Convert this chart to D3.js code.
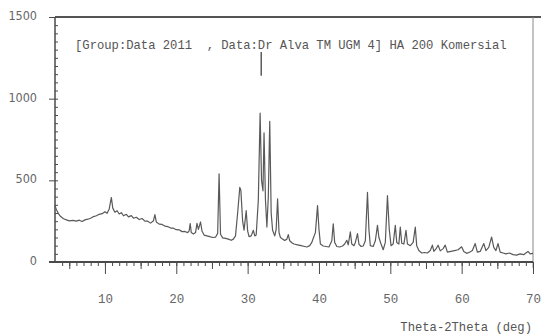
<!DOCTYPE html>
<html>
<head>
<meta charset="utf-8">
<script src="https://cdn.jsdelivr.net/npm/d3@7"></script>
<style>
  body { margin: 0; background: #fff; }
  svg { display: block; }
</style>
</head>
<body>
<svg id="chart" width="541" height="336"></svg>
<script>
// diffraction pattern: 2theta (deg) and intensity
const twoTheta = [
  3.0, 3.2, 3.5, 3.8, 4.2, 4.6, 5.0, 5.5, 6.0, 6.4, 6.8, 7.2, 7.6, 8.0, 8.4, 8.8, 9.2, 9.6,
  10.0, 10.3, 10.6, 10.9, 11.1, 11.4, 11.7, 12.0, 12.3, 12.6, 13.0, 13.3, 13.7, 14.0, 14.4, 14.8,
  15.2, 15.6, 16.0, 16.4, 16.8, 17.0, 17.2, 17.6, 18.0, 18.4, 18.8, 19.2, 19.6, 20.0, 20.4, 20.8,
  21.2, 21.6, 21.8, 21.95, 22.1, 22.4, 22.7, 22.9, 23.1, 23.4, 23.6, 23.9, 24.3, 24.7, 25.1, 25.5,
  25.8, 26.0, 26.2, 26.5, 26.9, 27.3, 27.7, 28.0, 28.3, 28.6, 28.9, 29.05, 29.3, 29.5, 29.8, 30.0,
  30.2, 30.5, 30.8, 31.0, 31.2, 31.5, 31.75, 31.95, 32.15, 32.3, 32.5, 32.7, 32.9, 33.1, 33.3, 33.5,
  33.8, 34.0, 34.2, 34.4, 34.6, 34.9, 35.2, 35.5, 35.7, 35.9, 36.2, 36.5, 37.0, 37.5, 38.0, 38.3,
  38.7, 39.0, 39.2, 39.5, 39.8, 40.0, 40.2, 40.6, 41.0, 41.4, 41.8, 42.0, 42.2, 42.5, 42.9, 43.3,
  43.6, 43.9, 44.1, 44.4, 44.6, 44.9, 45.1, 45.4, 45.6, 45.9, 46.2, 46.5, 46.8, 47.0, 47.2, 47.6,
  47.9, 48.2, 48.4, 48.7, 49.0, 49.3, 49.6, 49.85, 50.1, 50.4, 50.7, 50.9, 51.2, 51.4, 51.6, 51.9,
  52.2, 52.4, 52.8, 53.2, 53.5, 53.7, 54.0, 54.4, 54.8, 55.2, 55.6, 55.9, 56.1, 56.4, 56.7, 57.0,
  57.4, 57.7, 58.0, 58.5, 59.0, 59.5, 60.0, 60.3, 60.7, 61.1, 61.5, 61.9, 62.2, 62.6, 63.1, 63.4,
  63.8, 64.2, 64.5, 64.8, 65.1, 65.4, 65.8, 66.2, 66.7, 67.2, 67.7, 68.2, 68.7, 69.0, 69.3, 69.6, 70.0
];
const intensity = [
  345, 320, 295, 278, 265, 258, 252, 255, 250, 256, 248, 258, 262, 268, 278, 283, 292, 296,
  308, 298, 325, 395, 330, 305, 314, 294, 302, 283, 292, 276, 284, 268, 274, 260,
  266, 250, 250, 238, 252, 290, 245, 232, 230, 220, 217, 208, 207, 198, 197, 186,
  187, 180, 190, 235, 180, 172, 180, 236, 200, 245, 190, 165, 160, 155, 150, 152,
  175, 540, 170, 148, 145, 140, 133, 140, 160, 300, 457, 440, 250, 195, 315, 190,
  155, 160, 194, 160, 165, 380, 911, 500, 436, 790, 380, 214, 400, 861, 300, 194,
  160, 200, 386, 180, 150, 140, 132, 140, 168, 130, 118, 110, 105, 100, 95, 92,
  100, 120, 145, 180, 345, 200, 110, 98, 95, 92, 130, 234, 120, 95, 92, 98,
  110, 133, 105, 184, 110, 100, 120, 174, 110, 95, 98, 130, 426, 200, 100, 95,
  130, 224, 150, 110, 75, 120, 406, 200, 100, 110, 224, 120, 110, 214, 115, 110,
  194, 110, 100, 120, 214, 100, 70, 55, 58, 55, 70, 103, 65, 80, 103, 68,
  82, 103, 60, 65, 70, 75, 93, 65, 53, 60, 70, 113, 60, 65, 113, 70,
  90, 153, 90, 70, 113, 60, 55, 50, 55, 45, 42, 50, 45, 55, 65, 50, 53
];

const xDomain = [3, 70];
const yDomain = [0, 1500];
const xLabels = [10, 20, 30, 40, 50, 60, 70];
const yLabels = [0, 500, 1000, 1500];
const peakMarker = {at: 31.9, from: 1140, to: 1285};

const title = "[Group:Data 2011  , Data:Dr Alva TM UGM 4] HA 200 Komersial";
const xTitle = "Theta-2Theta (deg)";

const svg = d3.select("#chart");
const plotLeft = 55, plotRight = 533, plotTop = 17, plotBottom = 262;

const x = d3.scaleLinear(xDomain, [plotLeft, plotRight]);
const y = d3.scaleLinear(yDomain, [plotBottom, plotTop]);

const axisColor = "#4a4a4a";
const textColor = "#666";

// frame: top rule and right edge
svg.append("line")
  .attr("x1", plotLeft).attr("x2", 541)
  .attr("y1", plotTop).attr("y2", plotTop)
  .attr("stroke", "#555").attr("stroke-width", 2);
svg.append("line")
  .attr("x1", plotRight).attr("x2", plotRight)
  .attr("y1", plotTop).attr("y2", plotBottom + 6)
  .attr("stroke", "#888").attr("stroke-width", 1);

function styleAxis(g) {
  g.select(".domain").remove();
  g.selectAll("line").attr("stroke", axisColor);
  g.selectAll("text")
    .attr("fill", textColor)
    .attr("font-family", "'Liberation Mono', monospace")
    .attr("font-size", 12.5);
}

// x axis: minor, medium and major ticks
svg.append("g")
  .attr("transform", `translate(0,${plotBottom})`)
  .call(d3.axisBottom(x).tickValues(d3.range(4, 71, 1)).tickSize(4).tickFormat(""))
  .call(styleAxis);
svg.append("g")
  .attr("transform", `translate(0,${plotBottom})`)
  .call(d3.axisBottom(x).tickValues(d3.range(5, 71, 10)).tickSize(7).tickFormat(""))
  .call(styleAxis);
svg.append("g")
  .attr("transform", `translate(0,${plotBottom})`)
  .call(d3.axisBottom(x).tickValues(xLabels).tickSize(12).tickPadding(20).tickFormat(d3.format("d")))
  .call(styleAxis);

svg.append("line")
  .attr("x1", plotLeft - 6).attr("x2", plotRight)
  .attr("y1", plotBottom).attr("y2", plotBottom)
  .attr("stroke", axisColor).attr("stroke-width", 2);

// y axis
svg.append("g")
  .attr("transform", `translate(${plotLeft},0)`)
  .call(d3.axisRight(y).tickValues(d3.range(50, 1500, 50)).tickSize(3).tickFormat(""))
  .call(styleAxis);
svg.append("g")
  .attr("transform", `translate(${plotLeft},0)`)
  .call(d3.axisLeft(y).tickValues(yLabels).tickSize(6).tickPadding(12).tickFormat(d3.format("d")))
  .call(styleAxis)
  .selectAll("text")
  .attr("dy", "0.2em")
  .attr("font-family", "'DejaVu Sans Condensed', 'Liberation Sans Narrow', sans-serif")
  .attr("font-size", 12.5);

svg.append("line")
  .attr("x1", plotLeft).attr("x2", plotLeft)
  .attr("y1", plotTop).attr("y2", plotBottom)
  .attr("stroke", axisColor).attr("stroke-width", 1.5);

// pattern
const points = twoTheta.map((t, i) => [t, intensity[i]]);
svg.append("path")
  .datum(points)
  .attr("fill", "none")
  .attr("stroke", "#595959")
  .attr("stroke-width", 1.2)
  .attr("stroke-linejoin", "round")
  .attr("d", d3.line().x(d => x(d[0])).y(d => y(d[1])));

// peak marker
svg.append("line")
  .attr("x1", x(peakMarker.at)).attr("x2", x(peakMarker.at))
  .attr("y1", y(peakMarker.from)).attr("y2", y(peakMarker.to))
  .attr("stroke", "#333").attr("stroke-width", 1.2);

// texts
svg.append("text")
  .attr("x", 75).attr("y", 49)
  .attr("xml:space", "preserve")
  .style("white-space", "pre")
  .attr("font-family", "'Liberation Mono', monospace")
  .attr("font-size", 12.2)
  .attr("fill", "#555")
  .text(title);

svg.append("text")
  .attr("x", 532).attr("y", 331)
  .attr("text-anchor", "end")
  .attr("font-family", "'Liberation Mono', monospace")
  .attr("font-size", 12.2)
  .attr("fill", "#555")
  .text(xTitle);
</script>
</body>
</html>
